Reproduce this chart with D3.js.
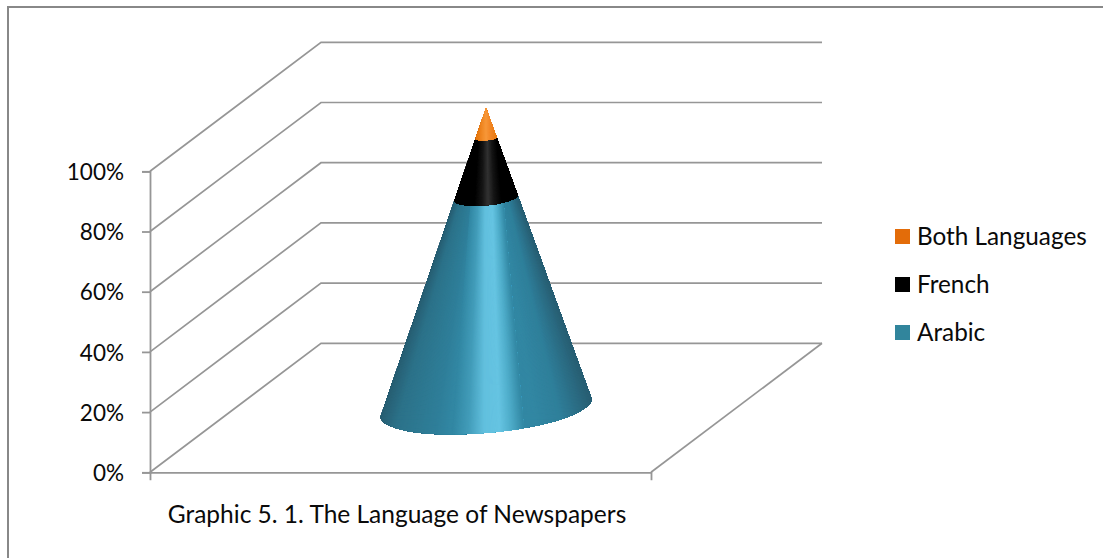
<!DOCTYPE html>
<html><head><meta charset="utf-8">
<script src="https://cdn.jsdelivr.net/npm/d3@7"></script>
<style>html,body{margin:0;padding:0;background:#fff}svg{display:block}text{font-family:Lato,sans-serif;fill:#0a0a0a}</style>
</head><body><svg id="c" width="1103" height="558"></svg>
<script>
const category = ["Graphic 5. 1. The Language of Newspapers"];
const seriesNames = ["Arabic", "French", "Both Languages"];
const seriesValues = [70, 20, 10];
const swatchColors = ["#31859c", "#000000", "#e36c09"];
const tickValues = [0, 20, 40, 60, 80, 100];
const legendOrder = ["Both Languages", "French", "Arabic"];
const ramps = {
  "Arabic": [[0,"#265a6e"],[.1,"#2c7289"],[.28,"#2f7f9a"],[.34,"#3287a3"],[.72,"#3287a3"],[.84,"#2f7f9a"],[.94,"#2b6b82"],[1,"#285f74"]],
  "French": [[0,"#000000"],[1,"#000000"]],
  "Both Languages": [[0,"#c9650f"],[.3,"#e87a12"],[.7,"#e87a12"],[1,"#c9650f"]]
};
const glowRamps = {
  "Arabic": [[.35,"#3287a3"],[.42,"#429cb9"],[.49,"#62c0de"],[.56,"#66c4e2"],[.61,"#4fadca"],[.67,"#3287a3"]],
  "French": [[.38,"#000000"],[.46,"#161616"],[.52,"#333333"],[.58,"#161616"],[.66,"#000000"]],
  "Both Languages": [[.38,"#e87a12"],[.5,"#f7983a"],[.56,"#f2892a"],[.66,"#e87a12"]]
};

const svg = d3.select("#c");
const LINE = "#969696";
svg.append("path").attr("d","M8,558V7H1103").attr("fill","none").attr("stroke","#888").attr("stroke-width",2);

const x = d3.scaleBand().domain(category).range([150,651]);
const y = d3.scaleLinear().domain([0,100]).range([472.3,171.3]);
const depth = {dx:171, dy:-129};

// walls and floor
const grid = svg.append("g").attr("fill","none").attr("stroke",LINE).attr("stroke-width",1.7);
const [x0,x1] = x.range();
tickValues.forEach(v=>{
  grid.append("path").attr("d",d3.line()([[x0,y(v)],[x0+depth.dx,y(v)+depth.dy],[x1+depth.dx,y(v)+depth.dy]]));
});
grid.append("path").attr("d",d3.line()([[x1+depth.dx,y(0)+depth.dy],[x1,y(0)]]));

// axes
const axisY = svg.append("g").attr("transform",`translate(${x0},0)`)
  .call(d3.axisLeft(y).tickValues(tickValues).tickSize(8).tickPadding(18).tickFormat(d=>d+"%"));
axisY.selectAll("text").style("font-size","22.5px").attr("dy","0.36em");
const axisX = svg.append("g").attr("transform",`translate(0,${y(0)})`)
  .call(d3.axisBottom(x).tickSizeInner(0).tickSizeOuter(8));
axisX.selectAll("text").style("font-size","24.5px").attr("y",50.5).attr("dy",0).attr("dx",-3.5);
svg.selectAll(".domain,.tick line").attr("stroke",LINE).attr("stroke-width",1.8);

// cone
const cx = x(category[0]) + x.bandwidth()/2 + depth.dx/2;
const baseY = y(0) + depth.dy/2;
const rx = x.bandwidth()*0.2115, ry = 25, tiltDeg = -5;
const tilt = tiltDeg*Math.PI/180;
const apex = [cx, y(100)+depth.dy/2+1];
const glowApex = [cx, apex[1]-100];
const tScale = d3.scaleLinear().domain([100,0]).range([0,1]);
const L = [cx-rx*Math.cos(tilt), baseY-rx*Math.sin(tilt)];
const R = [cx+rx*Math.cos(tilt), baseY+rx*Math.sin(tilt)];
const at = (P,t)=>[apex[0]+t*(P[0]-apex[0]), apex[1]+t*(P[1]-apex[1])];

function section(t0,t1){
  const a=at(L,t0), b=at(L,t1), c=at(R,t1), d=at(R,t0);
  return `M${a}L${b}A${rx*t1},${ry*t1} ${tiltDeg} 0 0 ${c}L${d}A${rx*t0},${ry*t0} ${tiltDeg} 0 0 ${a}Z`;
}
const stack = d3.cumsum(seriesValues);
const defs = svg.append("defs");
const bands = d3.range(-0.1,1.1,1/220);
const glowBands = d3.range(.35,.67,1/400);
const ext = 1.25;
function wedges(g, from, data, ramp, endU){
  const color = d3.scaleLinear().domain(ramp.map(s=>s[0])).range(ramp.map(s=>s[1])).clamp(true);
  const py = apex[1]+ext*(baseY-apex[1]);
  const k = (py-from[1])/(baseY-from[1]);
  const px = u=>from[0]+k*(cx+(2*u-1)*rx-from[0]);
  g.append("g").selectAll("path").data(data).join("path")
    .attr("d",u=>`M${from}L${px(u)},${py}L${px(endU)},${py}Z`)
    .attr("fill",u=>color(u));
}
seriesNames.forEach((name,i)=>{
  const t1 = tScale(i===0?0:stack[i-1]);
  const t0 = tScale(stack[i]);
  defs.append("clipPath").attr("id","clip"+i).append("path").attr("d",section(t0,t1));
  const g = svg.append("g").attr("clip-path",`url(#clip${i})`);
  wedges(g, apex, bands, ramps[name], 1.2);
  wedges(g, glowApex, glowBands, glowRamps[name], .67);
});

// legend
const legendY = d3.scalePoint().domain(legendOrder).range([229,325]);
const leg = svg.append("g").selectAll("g").data(legendOrder).join("g")
  .attr("transform",d=>`translate(895,${legendY(d)})`);
leg.append("rect").attr("width",15).attr("height",15).attr("fill",d=>swatchColors[seriesNames.indexOf(d)]);
leg.append("text").attr("x",22).attr("y",15.5).style("font-size","24.3px").text(d=>d);
</script></body></html>
